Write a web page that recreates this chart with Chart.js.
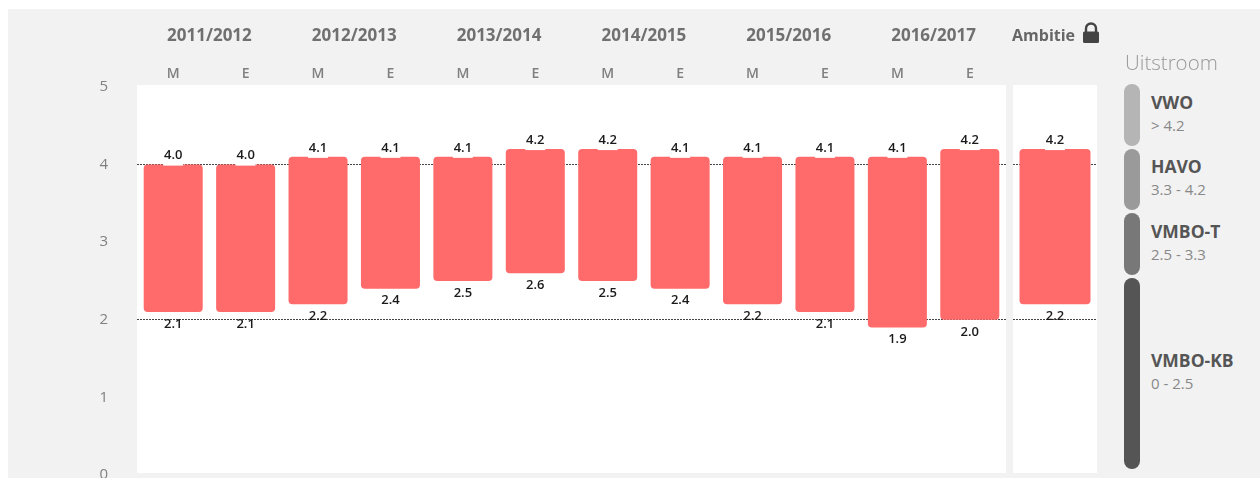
<!DOCTYPE html>
<html>
<head>
<meta charset="utf-8">
<script src="https://cdn.jsdelivr.net/npm/chart.js@4/dist/chart.umd.js"></script>
<style>
    html, body { margin: 0; padding: 0; background: #fff; overflow: hidden; }
    body { width: 1260px; height: 478px; position: relative; font-family: "Open Sans", sans-serif; }
    #bg { position: absolute; left: 8px; top: 9px; right: 0; bottom: 0; background: #f2f2f2; }
    .panel { position: absolute; top: 85px; height: 388px; background: #fff; }
    #panel-main { left: 137px; width: 869px; }
    #panel-ambitie { left: 1013px; width: 84px; }
    canvas { position: absolute; top: 0; }
    #chart-main { left: 0; }
    #chart-ambitie { left: 1013px; }
    #ambitie-title { position: absolute; left: 1012px; top: 25px; font-size: 16px; font-weight: 700; color: #666; line-height: 20px; }
    #lock { position: absolute; left: 1082px; top: 22px; }
    #legend-title { position: absolute; left: 1125px; top: 48px; font-size: 20.5px; font-weight: 300; color: #999; line-height: 28px; }
    #legend { position: absolute; left: 1124px; top: 84px; width: 130px; display: grid;
        grid-template-rows: 62px 61px 62px 191px; row-gap: 3px; }
    .item { position: relative; display: flex; flex-direction: column; justify-content: center; padding-left: 27px; }
    .swatch { position: absolute; left: 0; top: 0; bottom: 0; width: 16px; border-radius: 8px; }
    .name { font-size: 17.5px; font-weight: 700; color: #555; line-height: 22px; margin-top: -3px; }
    .range { font-size: 15px; color: #888; line-height: 24px; }
</style>
</head>
<body>
<div id="bg"></div>
<div class="panel" id="panel-main"></div>
<div class="panel" id="panel-ambitie"></div>
<canvas id="chart-main" width="1010" height="478"></canvas>
<canvas id="chart-ambitie" width="84" height="478"></canvas>
<div id="ambitie-title"></div>
<svg id="lock" width="18" height="22" viewBox="0 0 18 22">
    <path d="M4 10V6.5a5 5 0 0 1 10 0V10" fill="none" stroke="#444" stroke-width="2.4"/>
    <rect x="1" y="9.5" width="16" height="11.5" rx="1.5" fill="#444"/>
</svg>
<div id="legend-title"></div>
<div id="legend"></div>
<script>
const years = ['2011/2012', '2012/2013', '2013/2014', '2014/2015', '2015/2016', '2016/2017']
const terms = ['M', 'E', 'M', 'E', 'M', 'E', 'M', 'E', 'M', 'E', 'M', 'E']
const lows = [2.1, 2.1, 2.2, 2.4, 2.5, 2.6, 2.5, 2.4, 2.2, 2.1, 1.9, 2.0]
const highs = [4.0, 4.0, 4.1, 4.1, 4.1, 4.2, 4.2, 4.1, 4.1, 4.1, 4.1, 4.2]
const ambitieLabel = 'Ambitie'
const ambitieLow = [2.2]
const ambitieHigh = [4.2]
const yTicks = [0, 1, 2, 3, 4, 5]
const markedTicks = [2, 4]
const legendTitle = 'Uitstroom'
const legendNames = ['VWO', 'HAVO', 'VMBO-T', 'VMBO-KB']
const legendRanges = ['> 4.2', '3.3 - 4.2', '2.5 - 3.3', '0 - 2.5']
const legendColors = ['#b5b5b5', '#9a9a9a', '#787878', '#555555']

const barColor = '#ff6b6b'
const fontFamily = '"Open Sans", sans-serif'

// values above and below each bar
const valueLabels = {
    id: 'valueLabels',
    afterDatasetsDraw(chart) {
        const ctx = chart.ctx
        const meta = chart.getDatasetMeta(0)
        const raw = chart.data.datasets[0].data
        ctx.save()
        ctx.font = '600 13px ' + fontFamily
        ctx.textAlign = 'center'
        ctx.textBaseline = 'middle'
        meta.data.forEach((bar, i) => {
            const top = Math.min(bar.y, bar.base)
            const bottom = Math.max(bar.y, bar.base)
            ctx.fillStyle = '#fff'
            ctx.fillRect(bar.x - 10, top - 16, 20, 17)
            ctx.fillStyle = '#1a1a1a'
            ctx.fillText(raw[i][1].toFixed(1), bar.x, top - 9)
            ctx.fillText(raw[i][0].toFixed(1), bar.x, bottom + 12)
        })
        ctx.restore()
    }
}

// school year headers above each M/E pair
const yearHeaders = {
    id: 'yearHeaders',
    afterDraw(chart) {
        const ctx = chart.ctx
        const x = chart.scales.x
        ctx.save()
        ctx.font = '700 17px ' + fontFamily
        ctx.fillStyle = '#707070'
        ctx.textAlign = 'center'
        ctx.textBaseline = 'middle'
        years.forEach((year, i) => {
            const center = (x.getPixelForValue(i * 2) + x.getPixelForValue(i * 2 + 1)) / 2
            ctx.fillText(year, center, 36)
        })
        ctx.restore()
    }
}

function toRanges(low, high) {
    return low.map((value, i) => [value, high[i]])
}

function yAxis(showLabels) {
    return {
        type: 'linear',
        min: 0,
        max: 5,
        afterBuildTicks: scale => { scale.ticks = yTicks.map(value => ({value})) },
        afterFit: scale => {
            if (showLabels) scale.width = 137
            // tick padding would otherwise shrink the plot area
            scale.paddingTop = 0
            scale.paddingBottom = 0
        },
        border: {display: false},
        grid: {
            drawTicks: false,
            lineWidth: 1,
            color: c => markedTicks.includes(c.tick.value) ? '#444' : 'transparent'
        },
        border: {display: false, dash: [2, 1]},
        ticks: {
            display: showLabels,
            crossAlign: 'near',
            padding: 29,
            color: '#808080',
            font: {family: fontFamily, size: 15}
        }
    }
}

const sharedOptions = {
    responsive: false,
    animation: false,
    plugins: {legend: {display: false}, tooltip: {enabled: false}}
}

new Chart(document.getElementById('chart-main'), {
    type: 'bar',
    data: {
        labels: terms,
        datasets: [{
            data: toRanges(lows, highs),
            backgroundColor: barColor,
            borderRadius: 4,
            borderSkipped: false,
            categoryPercentage: 1,
            barPercentage: 0.815
        }]
    },
    options: {
        ...sharedOptions,
        layout: {padding: {top: 0, bottom: 3, left: 0, right: 4}},
        scales: {
            x: {
                position: 'top',
                afterFit: scale => { scale.height = 87 },
                border: {display: false},
                grid: {display: false, drawTicks: false},
                ticks: {
                    maxRotation: 0,
                    autoSkip: false,
                    padding: 5,
                    color: '#808080',
                    font: {family: fontFamily, size: 14, weight: 600}
                }
            },
            y: yAxis(true)
        }
    },
    plugins: [valueLabels, yearHeaders]
})

new Chart(document.getElementById('chart-ambitie'), {
    type: 'bar',
    data: {
        labels: [ambitieLabel],
        datasets: [{
            data: toRanges(ambitieLow, ambitieHigh),
            backgroundColor: barColor,
            borderRadius: 4,
            borderSkipped: false,
            categoryPercentage: 1,
            barPercentage: 0.845
        }]
    },
    options: {
        ...sharedOptions,
        layout: {padding: {top: 0, bottom: 3, left: 0, right: 0}},
        scales: {
            x: {
                position: 'top',
                afterFit: scale => { scale.height = 87 },
                border: {display: false},
                grid: {display: false, drawTicks: false},
                ticks: {display: false}
            },
            y: {...yAxis(false), display: true}
        }
    },
    plugins: [valueLabels]
})

document.getElementById('ambitie-title').textContent = ambitieLabel
document.getElementById('legend-title').textContent = legendTitle
document.getElementById('legend').innerHTML = legendNames.map((name, i) =>
    '<div class="item"><div class="swatch" style="background:' + legendColors[i] + '"></div>' +
    '<div class="name">' + name + '</div><div class="range">' + legendRanges[i].replace('>', '&gt;') + '</div></div>'
).join('')
</script>
</body>
</html>
